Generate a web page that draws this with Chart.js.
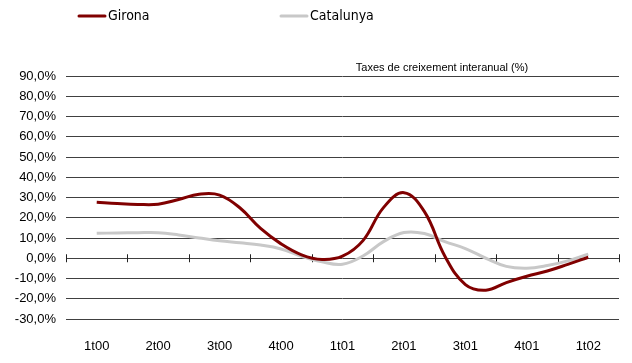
<!DOCTYPE html>
<html>
<head>
<meta charset="utf-8">
<script src="https://cdn.jsdelivr.net/npm/chart.js@4.4.1/dist/chart.umd.min.js"></script>
<style>
  html, body { margin: 0; padding: 0; background: #fff; }
  #wrap { width: 632px; height: 363px; }
</style>
</head>
<body>
<div id="wrap"><canvas id="grafic"></canvas></div>
<script>
// trimestres de l'eix
const trimestres = ['1t00', '2t00', '3t00', '4t00', '1t01', '2t01', '3t01', '4t01', '1t02'];
// dades mensuals, de 1t00 a 1t02
const girona = [27.6, 27.0, 26.6, 26.7, 29.0, 31.6, 31.2, 24.8, 14.7, 7.1, 1.7, -0.6, 1.0,
  8.7, 25.0, 32.4, 23.0, 1.0, -13.0, -15.8, -12.0, -8.9, -6.3, -3.0, 0.5];
const catalunya = [12.3, 12.5, 12.6, 12.6, 11.5, 10.0, 8.6, 7.6, 6.5, 4.6, 1.0, -1.8, -3.0,
  1.1, 8.2, 12.7, 12.2, 8.2, 4.8, 0.0, -4.0, -4.9, -3.6, -1.3, 2.0];
const subtitol = 'Taxes de creixement interanual (%)';

const fontTicks = "'Liberation Sans', Arial, sans-serif";
const fontLlegenda = "'Liberation Sans Narrow', 'DejaVu Sans Condensed', sans-serif";

// cada punt mensual es col·loca al seu lloc dins del trimestre
const aPunts = serie => serie.map((v, i) => ({ x: 0.5 + i / 3, y: v }));

const extres = {
  id: 'extres',
  beforeDatasetsDraw(chart) {
    const { ctx, scales: { x, y } } = chart;
    const y0 = y.getPixelForValue(0);
    ctx.save();
    ctx.strokeStyle = '#222';
    ctx.lineWidth = 1;
    for (let i = 0; i <= trimestres.length; i++) {
      const px = Math.round(x.getPixelForValue(i)) + 0.5;
      ctx.beginPath();
      ctx.moveTo(px, y0 - 4);
      ctx.lineTo(px, y0 + 4);
      ctx.stroke();
    }
    ctx.restore();
  },
  afterDraw(chart) {
    const ctx = chart.ctx;
    ctx.save();
    // llegenda
    const items = [
      { x: 79, ds: chart.data.datasets[0] },
      { x: 281, ds: chart.data.datasets[1] }
    ];
    ctx.font = '14px ' + fontLlegenda;
    ctx.textBaseline = 'middle';
    items.forEach(it => {
      ctx.strokeStyle = it.ds.borderColor;
      ctx.lineWidth = 3;
      ctx.lineCap = 'round';
      ctx.beginPath();
      ctx.moveTo(it.x, 16);
      ctx.lineTo(it.x + 26, 16);
      ctx.stroke();
      ctx.fillStyle = '#000';
      ctx.fillText(it.ds.label, it.x + 29, 16);
    });
    // subtítol
    ctx.font = '11px ' + fontTicks;
    ctx.textAlign = 'center';
    ctx.fillText(subtitol, 442, 68);
    ctx.restore();
  }
};

new Chart(document.getElementById('grafic'), {
  type: 'line',
  data: {
    datasets: [
      {
        label: 'Girona',
        data: aPunts(girona),
        borderColor: '#800000',
        borderWidth: 3,
        pointRadius: 0,
        tension: 0.4,
        order: 1
      },
      {
        label: 'Catalunya',
        data: aPunts(catalunya),
        borderColor: '#c8c8c8',
        borderWidth: 3,
        pointRadius: 0,
        tension: 0.4,
        order: 2
      }
    ]
  },
  options: {
    responsive: true,
    maintainAspectRatio: false,
    animation: false,
    layout: { padding: { top: 76, right: 13, left: 0, bottom: 0 } },
    plugins: {
      legend: { display: false },
      tooltip: { enabled: false }
    },
    scales: {
      x: {
        type: 'linear',
        min: 0,
        max: trimestres.length,
        grid: { display: false },
        border: { display: false },
        afterBuildTicks: s => { s.ticks = trimestres.map((t, i) => ({ value: i + 0.5 })); },
        afterFit: s => { s.height = 44; },
        ticks: {
          autoSkip: false,
          maxRotation: 0,
          padding: 12,
          color: '#000',
          font: { family: fontTicks, size: 13 },
          callback: (v) => trimestres[Math.floor(v)]
        }
      },
      y: {
        min: -30,
        max: 90,
        afterFit: s => { s.width = 66; },
        grid: { color: '#404040', lineWidth: 1, drawTicks: false },
        border: { display: false },
        ticks: {
          stepSize: 10,
          padding: 10,
          color: '#000',
          font: { family: fontTicks, size: 13 },
          callback: v => v.toFixed(1).replace('.', ',') + '%'
        }
      }
    }
  },
  plugins: [extres]
});
</script>
</body>
</html>
